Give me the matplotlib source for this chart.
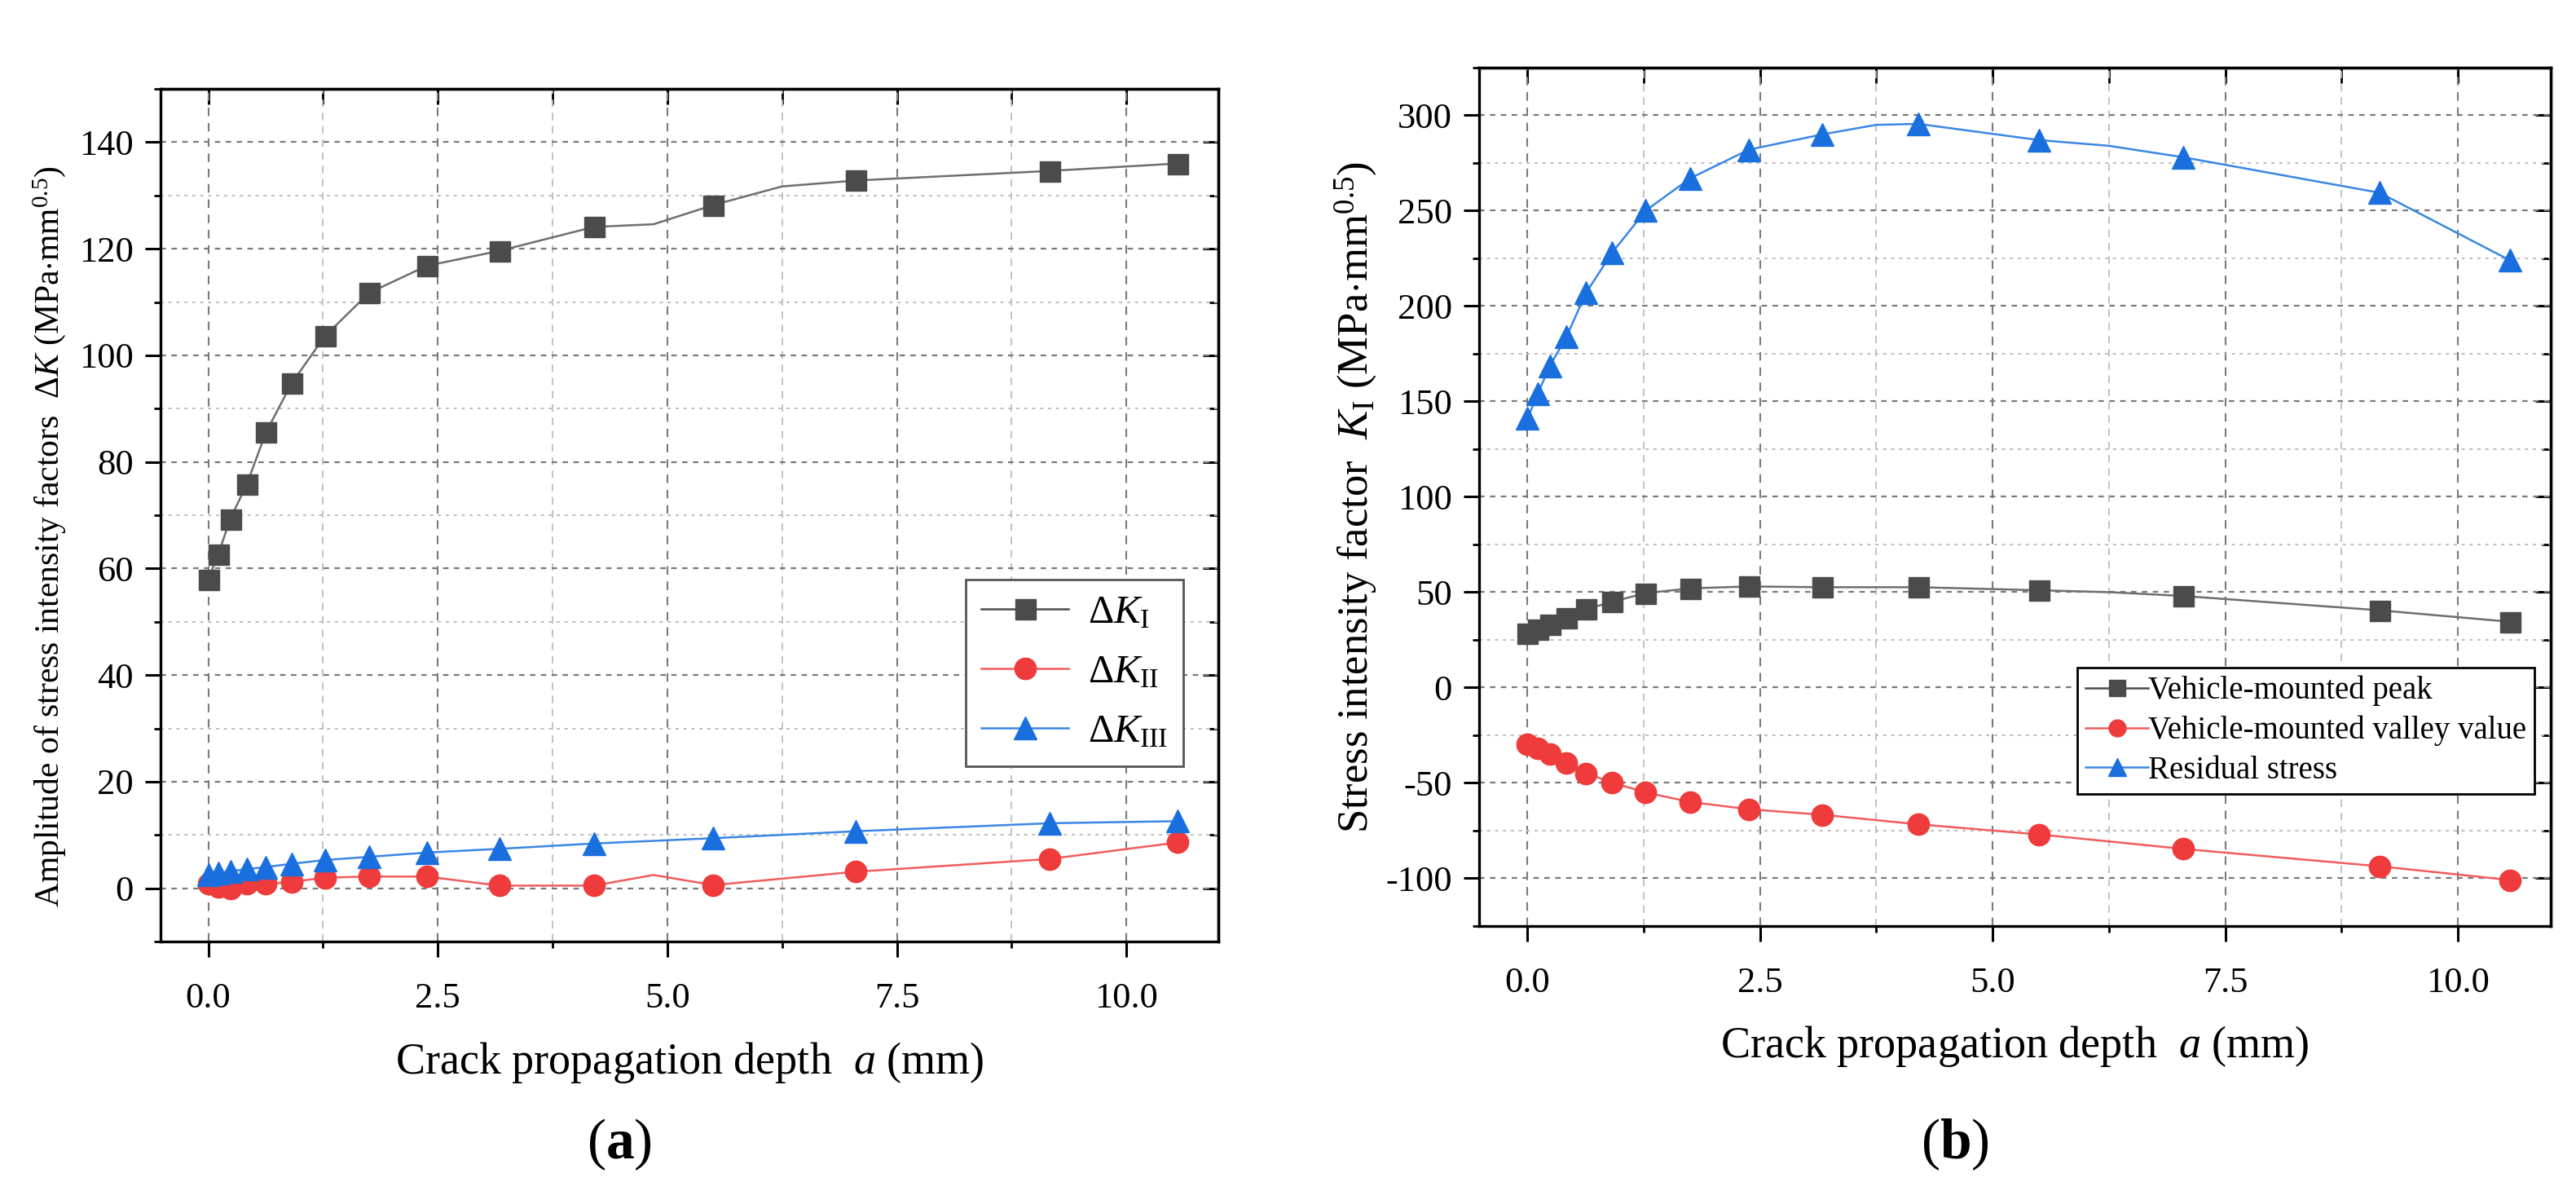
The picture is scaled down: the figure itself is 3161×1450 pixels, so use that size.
import matplotlib
matplotlib.use("Agg")
import matplotlib.pyplot as plt
from matplotlib.ticker import MultipleLocator

plt.rcParams['font.family'] = ['Liberation Serif', 'DejaVu Serif']
plt.rcParams['mathtext.fontset'] = 'custom'
plt.rcParams['mathtext.rm'] = 'Liberation Serif'
plt.rcParams['mathtext.it'] = 'Liberation Serif:italic'
plt.rcParams['mathtext.bf'] = 'Liberation Serif:bold'
plt.rcParams['axes.unicode_minus'] = False

# crack depth (mm) for the marked points
depth = [0, 0.11, 0.24, 0.42, 0.63, 0.91, 1.27, 1.75, 2.38, 3.17, 4.2, 5.5, 7.05, 9.16, 10.56]

# (a) amplitudes
dk1 = [58.0, 62.7, 69.3, 75.8, 85.6, 94.8, 103.6, 111.7, 116.8, 119.6, 124.1, 128.2, 132.8, 134.6, 136.0]
dk2 = [0.8, 0.2, 0.0, 0.8, 0.8, 1.2, 2.0, 2.2, 2.2, 0.5, 0.5, 0.6, 3.1, 5.5, 8.6]
dk3 = [2.5, 2.9, 3.2, 3.6, 4.0, 4.6, 5.3, 5.9, 6.7, 7.4, 8.4, 9.4, 10.7, 12.2, 12.6]
# connecting lines pass through a few unmarked points
dk1_line_x = [0, 0.11, 0.24, 0.42, 0.63, 0.91, 1.27, 1.75, 2.38, 3.17, 4.2, 4.85, 5.5, 6.25, 7.05, 9.16, 10.56]
dk1_line_y = [58.0, 62.7, 69.3, 75.8, 85.6, 94.8, 103.6, 111.7, 116.8, 119.6, 124.1, 124.6, 128.2, 131.7, 132.8, 134.6, 136.0]
dk2_line_x = [0, 0.11, 0.24, 0.42, 0.63, 0.91, 1.27, 1.75, 2.38, 3.17, 4.2, 4.85, 5.5, 7.05, 9.16, 10.56]
dk2_line_y = [0.8, 0.2, 0.0, 0.8, 0.8, 1.2, 2.0, 2.2, 2.2, 0.5, 0.5, 2.5, 0.6, 3.1, 5.5, 8.6]

# (b) K_I
peak = [28.3, 30.5, 33.3, 36.6, 41.0, 45.0, 49.5, 52.0, 53.0, 52.6, 52.6, 51.0, 48.0, 40.5, 34.5]
valley = [-29.7, -32.0, -35.0, -39.5, -45.0, -49.8, -55.0, -60.0, -63.8, -66.7, -71.7, -77.0, -84.6, -93.7, -100.9]
residual = [141, 154, 168.6, 184, 207, 228, 250, 267, 282, 290, 295.5, 287, 278, 259.4, 224]
res_line_x = [0, 0.11, 0.24, 0.42, 0.63, 0.91, 1.27, 1.75, 2.38, 3.17, 3.75, 4.2, 5.5, 6.25, 7.05, 9.16, 10.56]
res_line_y = [141, 154, 168.6, 184, 207, 228, 250, 267, 282, 290, 295, 295.5, 287, 284, 278, 259.4, 224]
peak_line_x = [0, 0.11, 0.24, 0.42, 0.63, 0.91, 1.27, 1.75, 2.38, 3.17, 4.2, 5.5, 6.25, 7.05, 9.16, 10.56]
peak_line_y = [28.3, 30.5, 33.3, 36.6, 41.0, 45.0, 49.5, 52.0, 53.0, 52.6, 52.6, 51.0, 50.0, 48.0, 40.5, 34.5]

GRAY, GRAY_L = '#4b4b4b', '#6e6e6e'
RED, RED_L = '#ef3b3b', '#f25c5c'
BLUE, BLUE_L = '#1a6fdf', '#3b86e6'
MS = 19

fig = plt.figure(figsize=(31.61, 14.5), dpi=100)
ax1 = fig.add_axes([0.0623, 0.2034, 0.4106, 0.7214])
ax2 = fig.add_axes([0.5742, 0.2166, 0.4160, 0.7262])


def style(ax, ymaj, ymin):
    ax.xaxis.set_major_locator(MultipleLocator(2.5))
    ax.xaxis.set_minor_locator(MultipleLocator(1.25))
    ax.yaxis.set_major_locator(MultipleLocator(ymaj))
    ax.yaxis.set_minor_locator(MultipleLocator(ymin))
    ax.set_xlim(-0.52, 11.0)
    ax.set_xticks([0, 2.5, 5.0, 7.5, 10.0])
    ax.set_xticklabels(['0.0', '2.5', '5.0', '7.5', '10.0'])
    for s in ax.spines.values():
        s.set_linewidth(2.4)
    ax.tick_params(which='major', direction='out', length=14, width=2.2,
                   labelsize=32, pad=10)
    ax.tick_params(which='minor', direction='out', length=6, width=2.0)
    ax.tick_params(axis='x', which='major', pad=22)
    ax.set_axisbelow(True)
    ax.grid(which='major', axis='y', color='#7a7a7a', linestyle=(0, (3, 3)), linewidth=1.6)
    ax.grid(which='minor', axis='y', color='#bdbdbd', linestyle=(0, (2, 3)), linewidth=1.4)
    ax.grid(which='major', axis='x', color='#7a7a7a', linestyle=(0, (5, 4)), linewidth=1.5)
    ax.grid(which='minor', axis='x', color='#bdbdbd', linestyle=(0, (5, 4)), linewidth=1.3)
    # mirrored inward ticks on top/right
    sec_x = ax.secondary_xaxis('top')
    sec_x.set_xticks([0, 2.5, 5.0, 7.5, 10.0])
    sec_x.xaxis.set_minor_locator(MultipleLocator(1.25))
    sec_x.tick_params(which='major', direction='in', length=14, width=2.2, labeltop=False)
    sec_x.tick_params(which='minor', direction='in', length=14, width=2.0)
    sec_x.spines['top'].set_linewidth(2.4)
    sec_y = ax.secondary_yaxis('right')
    sec_y.yaxis.set_major_locator(MultipleLocator(ymaj))
    sec_y.yaxis.set_minor_locator(MultipleLocator(ymin))
    sec_y.tick_params(which='major', direction='in', length=14, width=2.2, labelright=False)
    sec_y.tick_params(which='minor', direction='in', length=8, width=2.0)
    sec_y.spines['right'].set_linewidth(2.4)


# ---- (a) ----
style(ax1, 20, 10)
ax1.set_ylim(-10, 150)
ax1.plot(dk1_line_x, dk1_line_y, color=GRAY_L, lw=1.8, zorder=3)
ax1.plot(dk2_line_x, dk2_line_y, color=RED_L, lw=1.8, zorder=3)
ax1.plot(depth, dk3, color=BLUE_L, lw=1.8, zorder=3)
ax1.plot(depth, dk1, 's', color=GRAY, ms=MS - 1, zorder=4)
ax1.plot(depth, dk2, 'o', color=RED, ms=MS, zorder=4)
ax1.plot(depth, dk3, '^', color=BLUE, ms=MS + 1, zorder=4)
h1, = ax1.plot([], [], 's-', color=GRAY, mfc=GRAY, ms=MS - 1, lw=1.8)
h2, = ax1.plot([], [], 'o-', color=RED_L, mfc=RED, mec=RED, ms=MS, lw=1.8)
h3, = ax1.plot([], [], '^-', color=BLUE_L, mfc=BLUE, mec=BLUE, ms=MS + 1, lw=1.8)
leg1 = ax1.legend([h1, h2, h3],
                  [r'$\Delta K_{\mathrm{I}}$', r'$\Delta K_{\mathrm{II}}$', r'$\Delta K_{\mathrm{III}}$'],
                  loc='upper right', bbox_to_anchor=(0.967, 0.425), fontsize=35,
                  fancybox=False, framealpha=1, edgecolor='#555555',
                  handlelength=2.2, handletextpad=0.5, labelspacing=0.6,
                  borderpad=0.4, borderaxespad=0)
leg1.get_frame().set_linewidth(2.0)
ax1.set_xlabel(r'Crack propagation depth  $a$ (mm)', fontsize=39, labelpad=22)
ax1.set_ylabel(r'Amplitude of stress intensity factors  $\Delta K$ (MPa$\cdot$mm$^{0.5}$)',
               fontsize=30)
ax1.yaxis.set_label_coords(-0.088, 0.475)

# ---- (b) ----
style(ax2, 50, 25)
ax2.set_ylim(-125, 325)
ax2.plot(peak_line_x, peak_line_y, color=GRAY_L, lw=1.8, zorder=3)
ax2.plot(depth, valley, color=RED_L, lw=1.8, zorder=3)
ax2.plot(res_line_x, res_line_y, color=BLUE_L, lw=1.8, zorder=3)
ax2.plot(depth, peak, 's', color=GRAY, ms=MS - 1, zorder=4)
ax2.plot(depth, valley, 'o', color=RED, ms=MS, zorder=4)
ax2.plot(depth, residual, '^', color=BLUE, ms=MS + 1, zorder=4)
g1, = ax2.plot([], [], 's-', color=GRAY, ms=15, lw=1.8)
g2, = ax2.plot([], [], 'o-', color=RED_L, mfc=RED, mec=RED, ms=15, lw=1.8)
g3, = ax2.plot([], [], '^-', color=BLUE_L, mfc=BLUE, mec=BLUE, ms=16, lw=1.8)
leg2 = ax2.legend([g1, g2, g3],
                  ['Vehicle-mounted peak', 'Vehicle-mounted valley value', 'Residual stress'],
                  loc='upper right', bbox_to_anchor=(0.985, 0.301), fontsize=28,
                  fancybox=False, framealpha=1, edgecolor='black',
                  handlelength=2.0, handletextpad=0.0, labelspacing=0.3,
                  borderpad=0.25, borderaxespad=0)
leg2.get_frame().set_linewidth(2.0)
ax2.set_xlabel(r'Crack propagation depth  $a$ (mm)', fontsize=39, labelpad=22)
ax2.set_ylabel(r'Stress intensity factor  $K_{\mathrm{I}}$ (MPa$\cdot$mm$^{0.5}$)',
               fontsize=38, labelpad=6)

fig.text(0.2405, 0.032, r'($\mathbf{a}$)', fontsize=50, ha='center', va='center')
fig.text(0.759, 0.032, r'($\mathbf{b}$)', fontsize=50, ha='center', va='center')

fig.savefig('out.png', dpi=100)
